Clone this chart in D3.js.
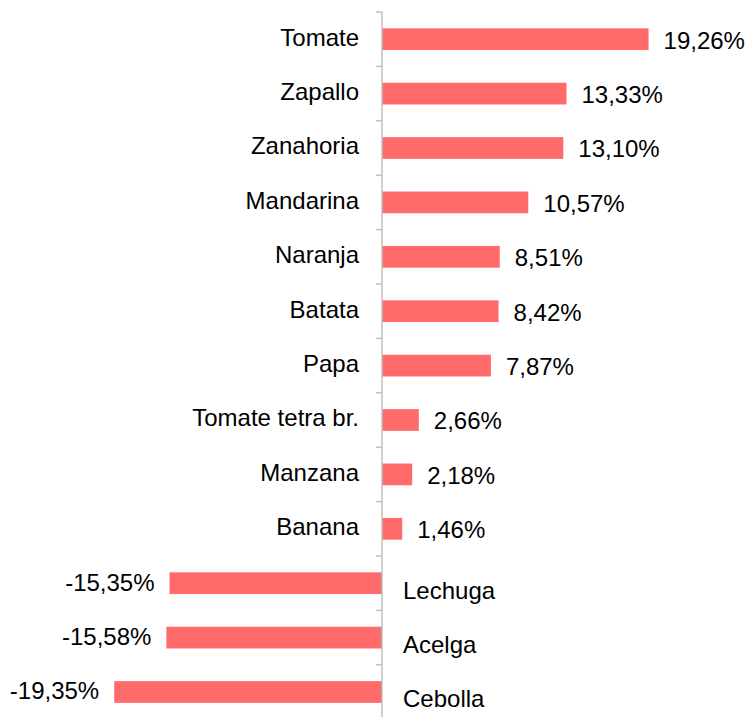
<!DOCTYPE html>
<html>
<head>
<meta charset="utf-8">
<script src="https://cdn.jsdelivr.net/npm/d3@7"></script>
<style>
  html, body { margin: 0; padding: 0; background: #fff; }
  svg { display: block; font-family: "Liberation Sans", Arial, sans-serif; }
</style>
</head>
<body>
<div id="chart"></div>
<script>
// Data
var categories = ["Tomate", "Zapallo", "Zanahoria", "Mandarina", "Naranja", "Batata",
  "Papa", "Tomate tetra br.", "Manzana", "Banana", "Lechuga", "Acelga", "Cebolla"];
var values = [19.26, 13.33, 13.10, 10.57, 8.51, 8.42, 7.87, 2.66, 2.18, 1.46, -15.35, -15.58, -19.35];

var width = 749, height = 717;
var zeroX = 382;
var barColor = "#ff6b6b";
var axisColor = "#bfbfbf";
var fontSize = 24;

var data = categories.map(function (c, i) { return { cat: c, val: values[i] }; });

var svg = d3.select("#chart").append("svg")
  .attr("width", width)
  .attr("height", height);

var x = d3.scaleLinear()
  .domain([-20, 20])
  .range([zeroX - 276.8, zeroX + 276.8]);

var y = d3.scaleBand()
  .domain(categories)
  .range([12, 12 + 13 * 54.4])
  .paddingInner(0.6)
  .paddingOuter(0.3);

// comma decimal, plain hyphen for negatives
var fmt = function (v) {
  return (v < 0 ? "-" : "") + Math.abs(v).toFixed(2).replace(".", ",") + "%";
};

// Bars
svg.selectAll(".bar")
  .data(data)
  .join("rect")
  .attr("class", "bar")
  .attr("x", function (d) { return x(Math.min(0, d.val)); })
  .attr("y", function (d) { return y(d.cat); })
  .attr("width", function (d) { return Math.abs(x(d.val) - x(0)); })
  .attr("height", y.bandwidth())
  .attr("fill", barColor);

// Axis line with boundary ticks
var step = y.step();
var boundaries = d3.range(categories.length + 1).map(function (i) {
  return y.range()[0] + i * step;
});
svg.append("line")
  .attr("x1", x(0)).attr("x2", x(0))
  .attr("y1", boundaries[0]).attr("y2", height)
  .attr("stroke", axisColor)
  .attr("stroke-width", 1.5);
svg.selectAll(".tick")
  .data(boundaries)
  .join("line")
  .attr("class", "tick")
  .attr("x1", x(0) - 6).attr("x2", x(0))
  .attr("y1", function (d) { return d; })
  .attr("y2", function (d) { return d; })
  .attr("stroke", axisColor)
  .attr("stroke-width", 1.5);

// Category labels
svg.selectAll(".cat")
  .data(data)
  .join("text")
  .attr("class", "cat")
  .attr("x", function (d) { return d.val >= 0 ? x(0) - 23 : x(0) + 21; })
  .attr("y", function (d) { return y(d.cat) + y.bandwidth() / 2 + (d.val >= 0 ? -2 : 7); })
  .attr("dy", "0.35em")
  .attr("text-anchor", function (d) { return d.val >= 0 ? "end" : "start"; })
  .attr("font-size", fontSize)
  .attr("fill", "#000")
  .text(function (d) { return d.cat; });

// Value labels
svg.selectAll(".val")
  .data(data)
  .join("text")
  .attr("class", "val")
  .attr("x", function (d) { return d.val >= 0 ? x(d.val) + 15 : x(d.val) - 15; })
  .attr("y", function (d) { return y(d.cat) + y.bandwidth() / 2 + (d.val >= 0 ? 1 : -1); })
  .attr("dy", "0.35em")
  .attr("text-anchor", function (d) { return d.val >= 0 ? "start" : "end"; })
  .attr("font-size", fontSize)
  .attr("fill", "#000")
  .text(function (d) { return fmt(d.val); });
</script>
</body>
</html>
